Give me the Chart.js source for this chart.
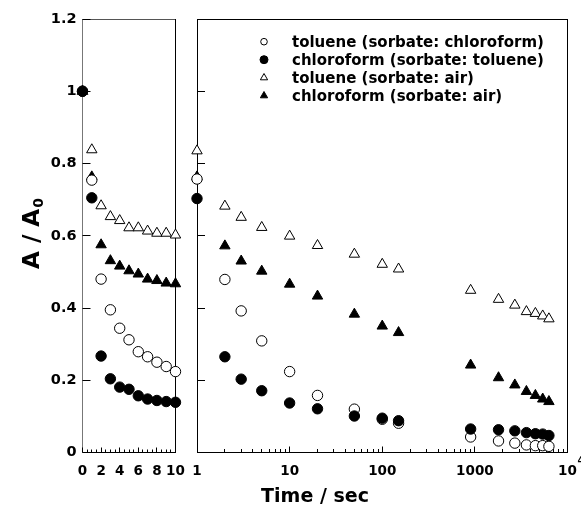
<!DOCTYPE html>
<html><head><meta charset="utf-8">
<script src="https://cdn.jsdelivr.net/npm/chart.js@4"></script>
<style>
html,body{margin:0;padding:0;background:#fff;}
#wrap{position:relative;width:581px;height:512px;overflow:hidden;background:#fff;}
canvas{position:absolute;top:0;}
#c1{left:0;}
#c2{left:180px;}
</style></head><body>
<div id="wrap"><canvas id="c1" width="200" height="512"></canvas><canvas id="c2" width="401" height="512"></canvas></div>
<script>
const FONT = 'DejaVu Sans';

const seriesLabels = ['toluene (sorbate: chloroform)', 'chloroform (sorbate: toluene)', 'toluene (sorbate: air)', 'chloroform (sorbate: air)'];

// left panel (linear time, 0-10 s)
const leftTimes  = [0, 1, 2, 3, 4, 5, 6, 7, 8, 9, 10];
const leftTolChl = [1.0, 0.754, 0.480, 0.395, 0.344, 0.312, 0.279, 0.265, 0.250, 0.238, 0.224];
const leftChlTol = [1.0, 0.705, 0.267, 0.204, 0.181, 0.175, 0.157, 0.148, 0.144, 0.141, 0.139];
const leftTolAir = [1.0, 0.838, 0.683, 0.653, 0.642, 0.622, 0.622, 0.613, 0.607, 0.607, 0.602];
const leftChlAir = [1.0, 0.763, 0.575, 0.531, 0.516, 0.503, 0.494, 0.480, 0.476, 0.469, 0.467];

// right panel (log time, 1-10^4 s)
const rightTimes  = [1, 2, 3, 5, 10, 20, 50, 100, 150, 900, 1800, 2700, 3600, 4500, 5400, 6300];
const rightTolChl = [0.757, 0.479, 0.392, 0.309, 0.224, 0.158, 0.120, 0.092, 0.081, 0.043, 0.032, 0.026, 0.021, 0.019, 0.019, 0.017];
const rightChlTol = [0.703, 0.265, 0.203, 0.171, 0.137, 0.121, 0.101, 0.095, 0.088, 0.065, 0.063, 0.060, 0.055, 0.052, 0.051, 0.047];
const rightTolAir = [0.835, 0.682, 0.651, 0.623, 0.599, 0.573, 0.549, 0.521, 0.508, 0.449, 0.424, 0.408, 0.390, 0.385, 0.378, 0.370];
const rightChlAir = [0.763, 0.572, 0.530, 0.502, 0.466, 0.433, 0.383, 0.350, 0.332, 0.242, 0.207, 0.187, 0.169, 0.158, 0.148, 0.141];

const leftXTicks  = [0, 2, 4, 6, 8, 10];
const rightXTicks = [1, 10, 100, 1000, 10000];
const yTicks      = [0, 0.2, 0.4, 0.6, 0.8, 1, 1.2];

const xTitle = 'Time / sec';
const yTitleMain = 'A / A';
const yTitleSub = '0';

const styles = [
  {shape: 'circle',   fill: '#ffffff', r: 5.2, order: 1, lr: 3.3},
  {shape: 'circle',   fill: '#000000', r: 5.2, order: 0, lr: 4},
  {shape: 'triangle', fill: '#ffffff', r: 6,   order: 2, lr: 4.2},
  {shape: 'triangle', fill: '#000000', r: 6,   order: 3, lr: 4.2}
];

function makeDatasets(times, list) {
  return list.map((vals, i) => ({
    label: seriesLabels[i],
    data: times.map((t, j) => ({x: t, y: vals[j]})),
    showLine: false,
    pointStyle: styles[i].shape,
    pointRadius: styles[i].r,
    pointHoverRadius: styles[i].r,
    pointBackgroundColor: styles[i].fill,
    pointBorderColor: '#000',
    pointBorderWidth: 1,
    backgroundColor: styles[i].fill,
    borderColor: '#000',
    order: styles[i].order,
    clip: false
  }));
}

function line(ctx, x1, y1, x2, y2, color) {
  ctx.beginPath();
  ctx.strokeStyle = color || '#000';
  ctx.lineWidth = 1;
  ctx.moveTo(x1, y1); ctx.lineTo(x2, y2);
  ctx.stroke();
}
const al = v => Math.round(v - 0.5) + 0.5;

const X_FONT_SIZE = 13.5;
const tickFont = {family: FONT, size: X_FONT_SIZE, weight: 'bold'};
const yTickFont = {family: FONT, size: 14.5, weight: 'bold'};

function yScaleCfg(width, showLabels, borderColor) {
  return {
    type: 'linear', min: 0, max: 1.2, position: 'left',
    afterBuildTicks: s => { s.ticks = yTicks.map(v => ({value: v})); },
    afterFit: s => { s.width = width; },
    grid: {display: false, drawTicks: false},
    border: {display: true, color: borderColor, width: 1},
    ticks: {display: showLabels, padding: 6, color: '#000', font: yTickFont,
            callback: v => String(+(+v).toFixed(1))}
  };
}

function xGrid() {
  return {display: false, drawTicks: true, tickLength: 10};
}

// ---------- left chart ----------
const leftDeco = {
  id: 'leftDeco',
  beforeDatasetsDraw(chart) {
    const {ctx, chartArea: a, scales: {x, y}} = chart;
    ctx.save();
    line(ctx, a.left, al(a.top), a.right, al(a.top), '#555');
    line(ctx, al(a.right), a.top, al(a.right), a.bottom, '#000');
    yTicks.forEach(v => {
      const py = al(y.getPixelForValue(v));
      line(ctx, a.left, py, a.left + 8, py);
    });
    for (let v = 0; v <= 10.001; v += 0.5) {
      const px = al(x.getPixelForValue(v));
      const len = (Math.abs(v % 2) < 1e-6) ? 5 : 3;
      line(ctx, px, a.bottom, px, a.bottom - len);
    }
    ctx.restore();
  },
  afterDraw(chart) {
    const {ctx} = chart;
    ctx.save();
    ctx.fillStyle = '#000';
    ctx.translate(39, 234);
    ctx.rotate(-Math.PI / 2);
    ctx.textBaseline = 'alphabetic';
    ctx.font = 'bold 23px "DejaVu Sans"';
    const w = ctx.measureText(yTitleMain).width;
    ctx.font = 'bold 14px "DejaVu Sans"';
    const w2 = ctx.measureText(yTitleSub).width;
    const x0 = -(w + w2) / 2;
    ctx.font = 'bold 23px "DejaVu Sans"';
    ctx.fillText(yTitleMain, x0, 0);
    ctx.font = 'bold 14px "DejaVu Sans"';
    ctx.fillText(yTitleSub, x0 + w + 1, 4);
    ctx.restore();
  }
};

new Chart(document.getElementById('c1'), {
  type: 'scatter',
  data: {datasets: makeDatasets(leftTimes, [leftTolChl, leftChlTol, leftTolAir, leftChlAir])},
  options: {
    responsive: false, animation: false, devicePixelRatio: 1,
    layout: {padding: {left: 0, top: 19, right: 24.5, bottom: 0}},
    plugins: {legend: {display: false}, tooltip: {enabled: false}},
    scales: {
      x: {
        type: 'linear', min: 0, max: 10, position: 'bottom',
        afterBuildTicks: s => { s.ticks = leftXTicks.map(v => ({value: v})); },
        afterFit: s => { s.height = 59.5; },
        grid: xGrid(),
        border: {display: true, color: '#000', width: 1},
        ticks: {padding: 1, autoSkip: false, maxRotation: 0, color: '#000', font: tickFont}
      },
      y: yScaleCfg(82.5, true, '#777')
    }
  },
  plugins: [leftDeco]
});

// ---------- right chart ----------
function drawMarker(ctx, shape, fill, x, y, r) {
  ctx.beginPath();
  if (shape === 'circle') {
    ctx.arc(x, y, r, 0, Math.PI * 2);
  } else {
    for (let k = 0; k < 3; k++) {
      const ang = k * 2 * Math.PI / 3;
      const px = x + Math.sin(ang) * r, py = y - Math.cos(ang) * r;
      if (k === 0) ctx.moveTo(px, py); else ctx.lineTo(px, py);
    }
    ctx.closePath();
  }
  ctx.fillStyle = fill;
  ctx.fill();
  ctx.lineWidth = 1;
  ctx.strokeStyle = '#000';
  ctx.stroke();
}

const rightDeco = {
  id: 'rightDeco',
  beforeDatasetsDraw(chart) {
    const {ctx, chartArea: a, scales: {x, y}} = chart;
    ctx.save();
    line(ctx, a.left, al(a.top), a.right, al(a.top), '#000');
    line(ctx, al(a.right), a.top, al(a.right), a.bottom, '#000');
    yTicks.forEach(v => {
      const py = al(y.getPixelForValue(v));
      line(ctx, a.left, py, a.left + 8, py);
    });
    for (let d = 0; d < 4; d++) {
      for (let m = 1; m <= 9; m++) {
        const v = m * Math.pow(10, d);
        const px = al(x.getPixelForValue(v));
        line(ctx, px, a.bottom, px, a.bottom - (m === 1 ? 6 : 3.5));
      }
    }
    const pe = al(x.getPixelForValue(10000));
    line(ctx, pe, a.bottom, pe, a.bottom - 6);
    ctx.restore();
  },
  afterDraw(chart) {
    const {ctx, scales: {x}} = chart;
    ctx.save();
    ctx.fillStyle = '#000';
    // superscript of 10^4
    ctx.font = 'bold ' + X_FONT_SIZE + 'px "DejaVu Sans"';
    const w10 = ctx.measureText('10').width;
    const px = x.getPixelForValue(10000) + w10 / 2 + 0.5;
    ctx.font = 'bold 9.5px "DejaVu Sans"';
    ctx.textBaseline = 'top';
    ctx.textAlign = 'left';
    ctx.fillText('4', px, 456);
    // axis title
    ctx.font = 'bold 19px "DejaVu Sans"';
    ctx.textAlign = 'center';
    ctx.textBaseline = 'middle';
    ctx.fillText(xTitle, 315 - 180, 497);
    // legend
    ctx.textAlign = 'left';
    ctx.font = 'bold 15px "DejaVu Sans"';
    chart.data.datasets.forEach((ds, i) => {
      const yy = 41.7 + 18 * i;
      const st = styles[i];
      drawMarker(ctx, st.shape, st.fill, 264 - 180, yy, st.lr);
      ctx.fillStyle = '#000';
      ctx.fillText(ds.label, 292 - 180, yy + 1);
    });
    ctx.restore();
  }
};

new Chart(document.getElementById('c2'), {
  type: 'scatter',
  data: {datasets: makeDatasets(rightTimes, [rightTolChl, rightChlTol, rightTolAir, rightChlAir])},
  options: {
    responsive: false, animation: false, devicePixelRatio: 1,
    layout: {padding: {left: 0, top: 19, right: 13.5, bottom: 0}},
    plugins: {legend: {display: false}, tooltip: {enabled: false}},
    scales: {
      x: {
        type: 'logarithmic', min: 1, max: 10000, position: 'bottom',
        afterBuildTicks: s => { s.ticks = rightXTicks.map(v => ({value: v})); },
        afterFit: s => { s.height = 59.5; },
        grid: xGrid(),
        border: {display: true, color: '#000', width: 1},
        ticks: {padding: 1, autoSkip: false, maxRotation: 0, color: '#000', font: tickFont,
                callback: v => (Math.round(+v) === 10000 ? '10' : String(Math.round(+v)))}
      },
      y: yScaleCfg(17, false, '#000')
    }
  },
  plugins: [rightDeco]
});
</script>
</body></html>
